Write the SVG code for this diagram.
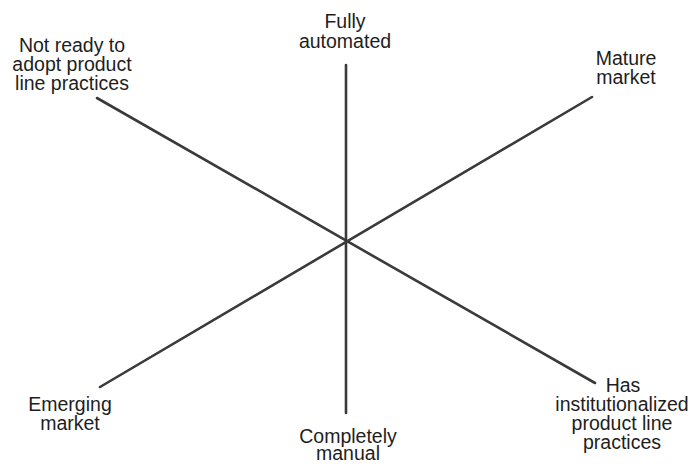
<svg xmlns="http://www.w3.org/2000/svg" width="692" height="464" viewBox="0 0 692 464">
<style>
.lbl{font-family:"Liberation Sans",Arial,sans-serif;font-size:19.5px;fill:#1e1e1e;text-anchor:middle}
.ax{stroke:#3a3a3a;stroke-width:2.6;fill:none;stroke-linecap:round}
</style>
<rect width="692" height="464" fill="#fff"/>
<g id="connectors">
<line class="ax" x1="346" y1="65" x2="346" y2="413"/>
<line class="ax" x1="97" y1="98" x2="595" y2="383"/>
<line class="ax" x1="100" y1="387" x2="592" y2="97"/>
</g>
<g id="node-fully-automated">
<text class="lbl" x="345" y="28">Fully</text>
<text class="lbl" x="345" y="48">automated</text>
</g>
<g id="node-completely-manual">
<text class="lbl" x="348" y="443">Completely</text>
<text class="lbl" x="348" y="460">manual</text>
</g>
<g id="node-not-ready">
<text class="lbl" x="72" y="52">Not ready to</text>
<text class="lbl" x="72" y="71">adopt product</text>
<text class="lbl" x="72" y="90">line practices</text>
</g>
<g id="node-has-institutionalized">
<text class="lbl" x="623" y="392">Has</text>
<text class="lbl" x="622" y="411">institutionalized</text>
<text class="lbl" x="622" y="430">product line</text>
<text class="lbl" x="622" y="449">practices</text>
</g>
<g id="node-mature-market">
<text class="lbl" x="626" y="65">Mature</text>
<text class="lbl" x="626" y="84">market</text>
</g>
<g id="node-emerging-market">
<text class="lbl" x="70" y="411">Emerging</text>
<text class="lbl" x="70" y="430">market</text>
</g>
</svg>
